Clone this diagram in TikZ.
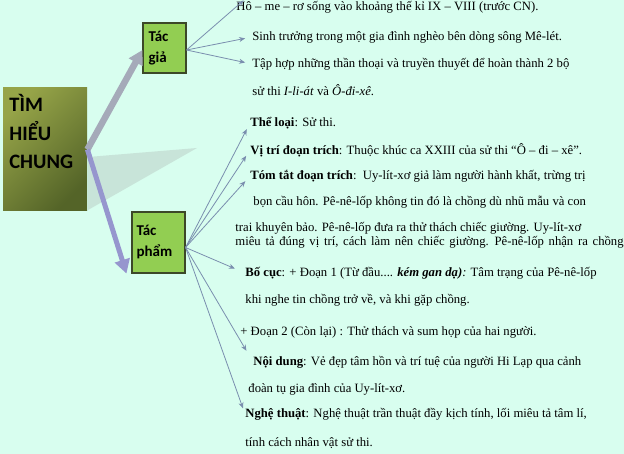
\documentclass[tikz,border=0pt]{standalone}
\usepackage{fontspec}
\setmainfont{Liberation Serif}
\newfontfamily\boxfont{Carlito}
\usetikzlibrary{arrows.meta,positioning}
\definecolor{mint}{RGB}{216,254,239}
\definecolor{leaf}{RGB}{146,206,82}
\definecolor{leafrim}{RGB}{60,72,40}
\definecolor{oliveA}{RGB}{150,164,72}
\definecolor{oliveB}{RGB}{84,100,40}
\definecolor{pointer}{RGB}{122,142,174}
\definecolor{bigA}{RGB}{165,170,185}
\definecolor{bigB}{RGB}{150,150,206}
\begin{document}
\begin{tikzpicture}[x=1pt, y=-1pt,
                    line width=0.8pt,
                    ]
    \tikzstyle{sub}=[draw=leafrim, fill=leaf, line width=1.1pt, align=left,
                     font=\boxfont\bfseries\fontsize{15}{21}\selectfont, inner sep=0pt]
    \tikzstyle{item}=[anchor=west, inner sep=0pt, font=\fontsize{12.7}{14}\selectfont]
    \tikzstyle{ptr}=[draw=pointer, -{Stealth[length=6pt,width=5pt]}]
    \tikzstyle{big}=[-{Triangle[length=14pt,width=15pt]}]

    \fill[mint] (0,0) rectangle (624,454);
    \useasboundingbox (0,0) rectangle (624,454);

    \fill[gray!80, opacity=0.25] (88,157) -- (197,148) -- (88,210) -- cycle;

    \node[shade, left color=oliveA, right color=oliveB, shading angle=45,
          minimum width=84pt, minimum height=123pt, inner sep=0pt] (main) at (45,149.5) {};
    \node[anchor=north west, align=left, inner sep=0pt,
          font=\boxfont\bfseries\fontsize{20.5}{28.5}\selectfont] (mainlbl) at (9,94) {TÌM\\HIỂU\\CHUNG};

    \node[sub, minimum width=43pt, minimum height=50pt, text width=32pt] (tg) at (164.5,48) {Tác\\giả};
    \node[sub, minimum width=53pt, minimum height=61pt, text width=44pt] (tp) at (158.5,242.5) {Tác\\phẩm};

    \draw[big, bigA, line width=6.5pt] (main.east) -- ([yshift=-2pt]tg.west);
    \draw[big, bigB, line width=5pt] (main.east) -- ([xshift=-5pt]tp.south west);

    \node[item] (a1) at (236,7) {Hô – me – rơ sống vào khoảng thế kỉ IX – VIII (trước CN).};
    \node[item] (a2) at (252,37) {Sinh trưởng trong một gia đình nghèo bên dòng sông Mê-lét.};
    \node[item] (a3) at (252,64) {Tập hợp những thần thoại và truyền thuyết để hoàn thành 2 bộ};
    \node[item] (a4) at (252,90) {sử thi \textit{I-li-át} và \textit{Ô-đi-xê}.};

    \node[item] (b1) at (250,123) {\textbf{Thể loại}: Sử thi.};
    \node[item] (b2) at (250,150) {\textbf{Vị trí đoạn trích}: Thuộc khúc ca XXIII của sử thi “Ô – đi – xê”.};
    \node[item] (b3) at (250,176) {\textbf{Tóm tắt đoạn trích}:\ \ Uy-lít-xơ giả làm người hành khất, trừng trị};
    \node[item] (b4) at (253,202) {bọn cầu hôn. Pê-nê-lốp không tin đó là chồng dù nhũ mẫu và con};
    \node[item] (b5) at (235,228) {trai khuyên bảo. Pê-nê-lốp đưa ra thử thách chiếc giường. Uy-lít-xơ};
    \node[item] (b6) at (235,242) {\spaceskip=4.7pt\relax miêu tả đúng vị trí, cách làm nên chiếc giường. Pê-nê-lốp nhận ra chồng};
    \node[item] (b7) at (245,273) {\textbf{Bố cục}: + Đoạn 1 (Từ đầu.... \textbf{\textit{kém gan dạ)}}\textit{:} Tâm trạng của Pê-nê-lốp};
    \node[item] (b8) at (245,300) {khi nghe tin chồng trở về, và khi gặp chồng.};
    \node[item] (b9) at (240,332) {+ Đoạn 2 (Còn lại) : Thử thách và sum họp của hai người.};
    \node[item] (b10) at (253,362) {\textbf{Nội dung}: Vẻ đẹp tâm hồn và trí tuệ của người Hi Lạp qua cảnh};
    \node[item] (b11) at (248,389) {đoàn tụ gia đình của Uy-lít-xơ.};
    \node[item] (b12) at (245,414) {\textbf{Nghệ thuật}: Nghệ thuật trần thuật đầy kịch tính, lối miêu tả tâm lí,};
    \node[item] (b13) at (245,443) {tính cách nhân vật sử thi.};

    \draw[ptr, shorten >=-10pt] ([yshift=-2pt]tg.east) -- (a1.west);
    \draw[ptr, shorten >=7pt] ([yshift=-2pt]tg.east) -- (a2.west);
    \draw[ptr, shorten >=7pt] ([yshift=-2pt]tg.east) -- (a3.west);

    \draw[ptr, shorten >=7pt] ([yshift=-5pt]tp.east) -- (b1.west);
    \draw[ptr, shorten >=7pt] ([yshift=-5pt]tp.east) -- (b2.west);
    \draw[ptr, shorten >=7pt] ([yshift=-5pt]tp.east) -- (b3.west);
    \draw[ptr, shorten >=11pt] ([yshift=-5pt]tp.east) -- (b7.west);
    \draw[ptr, shorten >=13pt] ([yshift=-5pt]tp.east) -- (b10.west);
    \draw[ptr, shorten >=6pt] ([yshift=-5pt]tp.east) -- (b12.west);
\end{tikzpicture}
\end{document}
